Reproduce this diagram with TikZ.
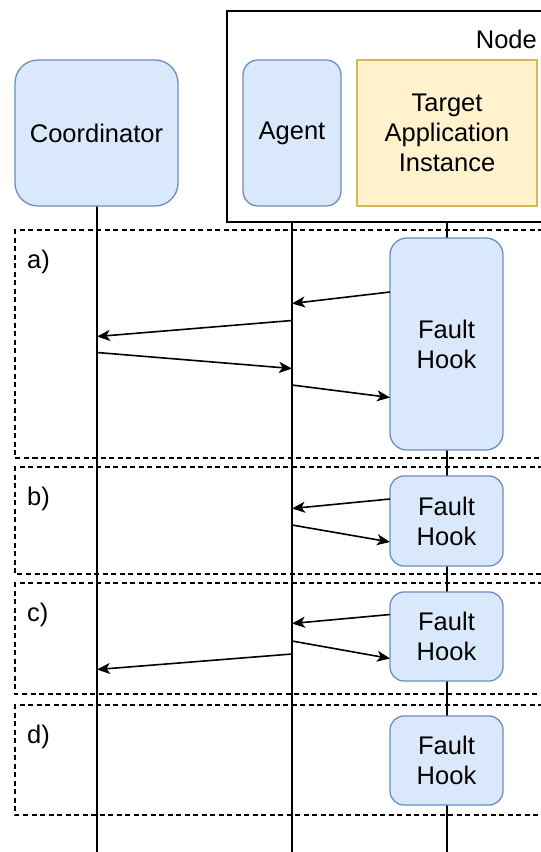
\documentclass[tikz,border=0pt]{standalone}
\usepackage{fontspec}
\setmainfont{Liberation Sans}
\usetikzlibrary{arrows.meta}
\definecolor{bluefill}{HTML}{DAE8FC}
\definecolor{blueline}{HTML}{6C8EBF}
\definecolor{yellowfill}{HTML}{FFF2CC}
\definecolor{yellowline}{HTML}{D6B656}
\tikzset{
  actor/.style={draw=blueline, fill=bluefill, line width=1.3pt, inner sep=0pt,
    align=center, font=\fontsize{25.5}{30}\selectfont},
  appbox/.style={draw=yellowline, fill=yellowfill, line width=1.3pt, inner sep=0pt,
    align=center, font=\fontsize{25.5}{30}\selectfont},
  lifeline/.style={line width=1.6pt},
  phase/.style={dash pattern=on 5pt off 3.5pt, line width=1.3pt},
  msg/.style={line width=1.6pt, -{Stealth[length=13pt,width=11pt,inset=3.5pt]}},
  lbl/.style={font=\fontsize{25.5}{30}\selectfont, inner sep=0pt}
}
\begin{document}
\begin{tikzpicture}[x=1pt,y=-1pt]
\clip (0,0) rectangle (541,852);
\fill[white] (0,0) rectangle (541,852);

% host node frame
\draw[line width=1.4pt] (227,11) rectangle (560,222);
\node[lbl, anchor=base east] (nodelbl) at (537,48) {Node};

% lifelines
\coordinate (coordend) at (97,860);
\coordinate (agentend) at (292,860);
\coordinate (append) at (447,860);
\coordinate (agenttop) at (292,222);
\coordinate (apptop) at (447,222);

\draw[lifeline] (97,206) -- (coordend);
\draw[lifeline] (agenttop) -- (agentend);
\draw[lifeline] (apptop) -- (append);

% participants
\node[actor, rounded corners=23pt, minimum width=163pt, minimum height=146pt] (coord) at (96.5,133) {Coordinator};
\node[actor, rounded corners=15pt, minimum width=98pt, minimum height=146pt] (agent) at (292,133) {Agent};
\node[appbox, minimum width=180pt, minimum height=146pt] (app) at (447,133) {Target\\Application\\Instance};

% phase frames
\draw[phase] (560,230) -- (15,230) -- (15,458) -- (560,458);
\draw[phase] (560,467) -- (15,467) -- (15,574) -- (560,574);
\draw[phase] (560,583) -- (15,583) -- (15,694) -- (560,694);
\draw[phase] (560,705) -- (15,705) -- (15,815) -- (560,815);

\node[lbl, anchor=base west] (la) at (27,268) {a)};
\node[lbl, anchor=base west] (lb) at (27,505) {b)};
\node[lbl, anchor=base west] (lc) at (27,621) {c)};
\node[lbl, anchor=base west] (ld) at (27,743) {d)};

% fault hooks
\node[actor, rounded corners=17pt, minimum width=113pt, minimum height=212pt] (fha) at (446.5,344) {Fault\\Hook};
\node[actor, rounded corners=14pt, minimum width=113pt, minimum height=90pt] (fhb) at (446.5,521) {Fault\\Hook};
\node[actor, rounded corners=14pt, minimum width=113pt, minimum height=89pt] (fhc) at (446.5,636.5) {Fault\\Hook};
\node[actor, rounded corners=14pt, minimum width=113pt, minimum height=89pt] (fhd) at (446.5,760.5) {Fault\\Hook};

% message end points
\coordinate (a1s) at (390,292);
\coordinate (a1e) at (292,303.5);
\coordinate (a2s) at (292,320.5);
\coordinate (a2e) at (97,336.5);
\coordinate (a3s) at (97,352.5);
\coordinate (a3e) at (292,368.5);
\coordinate (a4s) at (292,385);
\coordinate (a4e) at (390,397.5);

\coordinate (b1s) at (390,499);
\coordinate (b1e) at (292,508.5);
\coordinate (b2s) at (292,525);
\coordinate (b2e) at (390,542);

\coordinate (c1s) at (390,614.5);
\coordinate (c1e) at (292,623.5);
\coordinate (c2s) at (292,641);
\coordinate (c2e) at (390,658.5);
\coordinate (c3s) at (292,654);
\coordinate (c3e) at (97,669.5);

% messages
\draw[msg] (a1s) -- (a1e);
\draw[msg] (a2s) -- (a2e);
\draw[msg] (a3s) -- (a3e);
\draw[msg] (a4s) -- (a4e);
\draw[msg] (b1s) -- (b1e);
\draw[msg] (b2s) -- (b2e);
\draw[msg] (c1s) -- (c1e);
\draw[msg] (c2s) -- (c2e);
\draw[msg] (c3s) -- (c3e);
\end{tikzpicture}
\end{document}
